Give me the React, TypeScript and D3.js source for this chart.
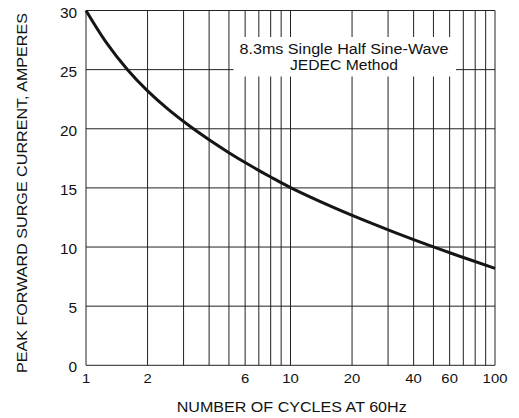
import React from "react";
import * as d3 from "d3";

const cycles = [1, 1.25, 1.6, 2, 2.5, 3.2, 4, 5, 6.3, 8, 10, 16, 25, 40, 63, 100];
const current = [30, 27.35, 24.97, 23.2, 21.7, 20.25, 19.07, 17.98, 16.93, 15.92, 15.03, 13.4, 12.0, 10.62, 9.39, 8.2];
const xGrid = [1, 2, 3, 4, 5, 6, 7, 8, 9, 10, 20, 30, 40, 50, 60, 70, 80, 90, 100];
const xTickLabels = [1, 2, 6, 10, 20, 40, 60, 100];
const yTicks = [0, 5, 10, 15, 20, 25, 30];
const annotation = ["8.3ms Single Half Sine-Wave", "JEDEC Method"];
const annotationWidths = [209, 108];
const xTitle = "NUMBER OF CYCLES AT 60Hz";
const yTitle = "PEAK FORWARD SURGE CURRENT, AMPERES";

const W = 519;
const H = 418;
const M = { left: 86, right: 495, top: 10.5, bottom: 365.3 };
const FONT = "'Liberation Sans', Arial, Helvetica, sans-serif";
const STRETCH = 1.1;

export default function App() {
  const x = d3.scaleLog().domain([1, 100]).range([M.left, M.right]);
  const y = d3.scaleLinear().domain([0, 30]).range([M.bottom, M.top]);
  const pts: [number, number][] = cycles.map((c, i) => [x(c), y(current[i])]);
  const path = d3.line().curve(d3.curveCatmullRom.alpha(0.5))(pts) || "";
  const grid = "#222";
  return (
    <svg
      width={W}
      height={H}
      style={{ position: "absolute", left: 0, top: 0, background: "#fff" }}
      fontFamily={FONT}
    >
      <rect x={0} y={0} width={W} height={H} fill="#fff" />
      {xGrid.map((v) => (
        <line key={"xg" + v} x1={x(v)} x2={x(v)} y1={M.top} y2={M.bottom} stroke={grid} strokeWidth={1} />
      ))}
      {yTicks.map((v) => (
        <line key={"yg" + v} x1={M.left} x2={M.right} y1={y(v)} y2={y(v)} stroke={grid} strokeWidth={1} />
      ))}
      <rect x={233.5} y={37} width={222.5} height={39.5} fill="#fff" />
      {annotation.map((t, i) => (
        <text
          key={t}
          x={344}
          y={54.3 + i * 15.7}
          textAnchor="middle"
          fontSize={14}
          fill="#111"
          textLength={annotationWidths[i]}
          lengthAdjust="spacingAndGlyphs"
        >
          {t}
        </text>
      ))}
      <path d={path} fill="none" stroke="#151515" strokeWidth={3} />
      {yTicks.map((v) => (
        <text
          key={"yl" + v}
          transform={`translate(77, ${y(v) + 7}) scale(${STRETCH}, 1)`}
          textAnchor="end"
          fontSize={14}
          fill="#111"
        >
          {v}
        </text>
      ))}
      {xTickLabels.map((v) => (
        <text
          key={"xl" + v}
          transform={`translate(${x(v)}, 382.7) scale(${STRETCH}, 1)`}
          textAnchor="middle"
          fontSize={13.5}
          fill="#111"
        >
          {v}
        </text>
      ))}
      <text
        x={291.7}
        y={412.3}
        textAnchor="middle"
        fontSize={15}
        fill="#111"
        textLength={230}
        lengthAdjust="spacingAndGlyphs"
      >
        {xTitle}
      </text>
      <text
        transform={`translate(27.3, 193) rotate(-90)`}
        textAnchor="middle"
        fontSize={15}
        fill="#111"
        textLength={360}
        lengthAdjust="spacingAndGlyphs"
      >
        {yTitle}
      </text>
    </svg>
  );
}
